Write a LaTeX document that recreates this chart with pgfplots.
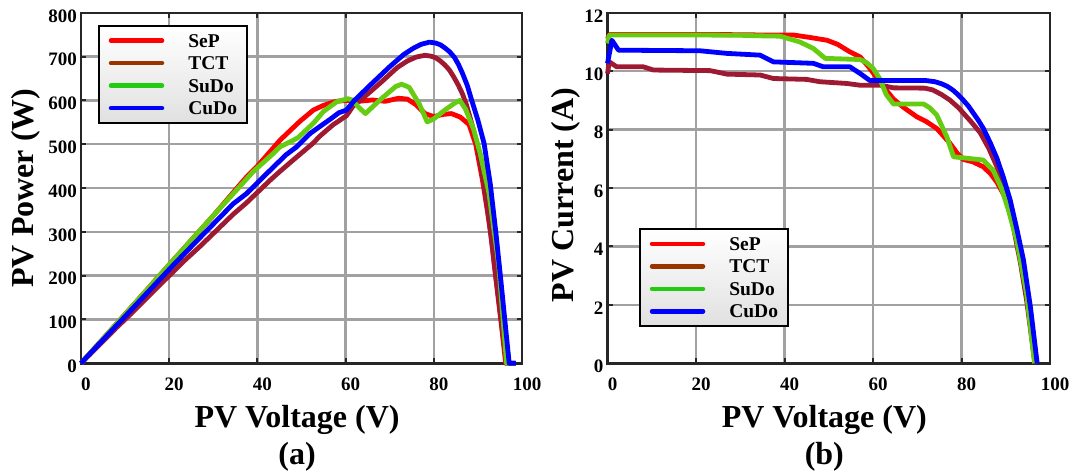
\documentclass[border=0pt]{standalone}
\usepackage{fontspec}
\setmainfont{Liberation Serif}
\usepackage{pgfplots}
\pgfplotsset{compat=1.18}

\definecolor{cSeP}{HTML}{FF0000}
\definecolor{cTCT}{HTML}{9E1A32}
\definecolor{cTCTleg}{HTML}{993300}
\definecolor{cSuDo}{HTML}{66CC11}
\definecolor{cSuDoleg}{HTML}{22CC11}
\definecolor{cCuDo}{HTML}{0000FF}

\pgfplotsset{
  pvaxis/.style={
    scale only axis, height=350.5pt,
    xmin=0, xmax=100, xtick={0,20,...,100},
    grid=major, grid style={line width=2.5pt, color=black!37},
    axis line style={line width=2.5pt, color=black!85},
    tick style={line width=2pt, color=black!85},
    major tick length=5pt, tick align=inside,
    clip=false,
    /pgf/number format/assume math mode=true,
    tick label style={font=\fontsize{19}{22}\selectfont\bfseries},
    xticklabel style={anchor=base, yshift=-26.7pt, xshift=5pt},
    yticklabel style={anchor=east, inner sep=0pt, xshift=-4pt, yshift=-3pt},
    label style={font=\fontsize{32}{36}\selectfont\bfseries},
    xlabel={PV Voltage (V)},
    every axis plot/.append style={line width=4.8pt, line join=round},
    legend style={
      anchor=north west,
      draw=black, line width=2pt, top color=white, bottom color=black!12,
      inner xsep=10pt, inner ysep=8pt,
      font=\fontsize{19.5}{22}\selectfont\bfseries,
      nodes={inner sep=0pt, text height=13pt, text depth=0pt},
      row sep=9.5pt, column sep=24pt,
      cells={anchor=west},
    },
    legend image code/.code={\draw[##1, line cap=round, line width=4.5pt] (-2pt,0pt) -- (49pt,0pt);},
  },
}

\begin{document}
\begin{tikzpicture}
\useasboundingbox (0,0) rectangle (1074pt,474pt);

% (a) P-V curves
\begin{axis}[pvaxis,
  at={(81pt,110.7pt)}, anchor=south west, width=441pt,
  ymin=0, ymax=800, ytick={0,100,...,800},
  ylabel={PV Power (W)},
  ylabel style={at={(axis description cs:-0.108,0.5)}, anchor=base},
  xlabel style={at={(axis description cs:0.49,-0.1845)}, anchor=base},
  legend style={at={(axis description cs:0.038,0.965)}},
]
\addlegendimage{color=cSeP}\addlegendentry{SeP}
\addlegendimage{color=cTCTleg}\addlegendentry{TCT}
\addlegendimage{color=cSuDoleg}\addlegendentry{SuDo}
\addlegendimage{color=cCuDo}\addlegendentry{CuDo}

\addplot[color=cSeP, forget plot] coordinates {
 (0,0) (10,112) (20,225) (30,337) (37.6,426) (40,450) (45.1,509) (49.6,552)
 (52.7,578) (54.8,588) (56.5,594) (58,598) (60,600) (63,598) (66,601)
 (69,598) (72,605) (74,603) (76,590) (78,570) (80,563) (82,568) (84,570)
 (86,562) (88,545) (89.5,500) (91,420) (92.2,345) (93,290) (94,200)
 (95.3,90) (96.3,0) (98.5,0)};
\addplot[color=cTCT, forget plot] coordinates {
 (0,0) (2.1,21) (8.1,82) (10.4,104) (23.2,232) (27,267) (34.5,340)
 (37.5,366) (42.9,418) (45,437) (48,463) (52.7,503) (54.1,518) (57.1,544)
 (60.2,565) (61.7,587) (64.7,612) (68,641) (71.7,675) (74,690) (76,699)
 (78,703) (79.4,701) (80.5,697) (81.5,690) (82.5,681) (83.5,670)
 (84.5,654) (85.5,636) (86.5,615) (87.4,590) (88.2,562) (89,532)
 (89.8,500) (90.5,462) (91.2,420) (92.6,320) (93.8,220) (95,120) (96.5,0)
 (98.5,0)};
\addplot[color=cSuDo, forget plot] coordinates {
 (0,0) (10,112) (20,225) (30,337) (39,437) (43.5,478) (45.1,494) (48.1,509)
 (49.2,515) (52.7,548) (55,575) (58,597) (60.5,604) (61.5,601) (63,584)
 (64.5,570) (68,603) (71.4,632) (72.7,637) (74.4,630) (76.7,592)
 (78.5,551) (80,558) (82.5,578) (84.9,595) (85.9,600) (87.2,580) (89,535)
 (90.5,480) (92.5,389) (94.7,227) (96.5,0) (98.5,0)};
\addplot[color=cCuDo, forget plot] coordinates {
 (0,0) (1,11) (2.5,27) (10,107) (20.9,224) (27,287) (34.5,364) (37.5,387)
 (41.4,426) (46.5,476) (48.9,494) (52,525) (54.8,545) (56.5,557) (58.5,572)
 (60.2,578) (62,600) (66,639) (70,677) (73.2,705) (75.5,720) (77.1,728)
 (79,733) (80.4,731) (81.5,727) (82.5,720) (83.6,711) (84.7,698)
 (85.6,682) (86.5,662) (87.6,634) (88.6,600) (90,555) (91.4,502)
 (92.8,410) (94.1,296) (95.2,190) (96.1,99) (97.1,0) (98.6,0)};
\node[font=\fontsize{32}{36}\selectfont\bfseries, anchor=base]
  at (axis description cs:0.49,-0.290) {(a)};
\end{axis}

% (b) I-V curves
\begin{axis}[pvaxis,
  at={(607.5pt,110.7pt)}, anchor=south west, width=442.5pt,
  ymin=0, ymax=12, ytick={0,2,...,12},
  ylabel={PV Current (A)},
  ylabel style={at={(axis description cs:-0.0775,0.48)}, anchor=base},
  xlabel style={at={(axis description cs:0.49,-0.1845)}, anchor=base},
  legend style={at={(axis description cs:0.0707,0.385)}},
]
\addlegendimage{color=cSeP}\addlegendentry{SeP}
\addlegendimage{color=cTCTleg}\addlegendentry{TCT}
\addlegendimage{color=cSuDoleg}\addlegendentry{SuDo}
\addlegendimage{color=cCuDo}\addlegendentry{CuDo}

\addplot[color=cSeP, forget plot] coordinates {
 (0,11.1) (0.5,11.26) (20,11.26) (30,11.25) (35,11.24) (42,11.24)
 (46,11.15) (49.6,11.06) (52,10.92) (54.8,10.66) (57.1,10.49) (59,10.15)
 (61,9.75) (62.5,9.45) (64.6,9.05) (67,8.75) (69.9,8.44) (72,8.28)
 (74.4,8.04) (77.4,7.53) (79,7.2) (80.4,6.98) (82.5,6.9) (84.9,6.73)
 (86.5,6.5) (88,6.2) (90.2,5.59) (92.5,4.45) (94.7,2.62) (96.6,0)};
\addplot[color=cTCT, forget plot] coordinates {
 (0,9.92) (0.4,10.32) (2.1,10.15) (8.1,10.15) (10.4,10.04) (23.2,10.02)
 (27,9.9) (34.5,9.87) (37.5,9.75) (45,9.72) (48,9.64) (54.1,9.58)
 (57.1,9.52) (61.7,9.52) (64.7,9.43) (71.7,9.42) (73.5,9.36) (75.5,9.2)
 (77.4,9.01) (79.4,8.74) (80.8,8.5) (82,8.3) (84.2,7.9) (86.2,7.35)
 (88,6.73) (90,5.8) (91.7,4.68) (93.3,3.45) (94.7,2.17) (96.6,0)};
\addplot[color=cSuDo, forget plot] coordinates {
 (0,10.95) (0.4,11.24) (20,11.24) (30,11.23) (35,11.21) (39,11.2)
 (43.5,11.0) (46.5,10.78) (49.2,10.44) (57.1,10.4) (58.5,10.3) (60,10.1)
 (61.5,9.75) (63,9.2) (64.6,8.88) (71.4,8.88) (72.8,8.75) (74.4,8.5)
 (76.7,7.75) (78.2,7.07) (84.9,6.96) (87.2,6.6) (89,6.0) (90.5,5.3)
 (92.5,4.2) (94.7,2.4) (96.5,0)};
\addplot[color=cCuDo, forget plot] coordinates {
 (0,10.27) (1.0,11.06) (2.5,10.72) (20.9,10.7) (27,10.61) (34.5,10.55)
 (37.5,10.32) (46.5,10.27) (48.8,10.15) (54.8,10.15) (57.1,9.92)
 (59.3,9.68) (72,9.68) (74,9.64) (75.5,9.57) (76.8,9.48) (78,9.36)
 (79.2,9.2) (80.4,9.01) (81.6,8.8) (82.7,8.56) (83.8,8.32) (84.9,8.05)
 (86.5,7.55) (88,7.02) (89.5,6.35) (91,5.59) (92.5,4.6) (94,3.54)
 (95.6,1.9) (97.1,0)};
\node[font=\fontsize{32}{36}\selectfont\bfseries, anchor=base]
  at (axis description cs:0.49,-0.290) {(b)};
\end{axis}
\end{tikzpicture}
\end{document}
